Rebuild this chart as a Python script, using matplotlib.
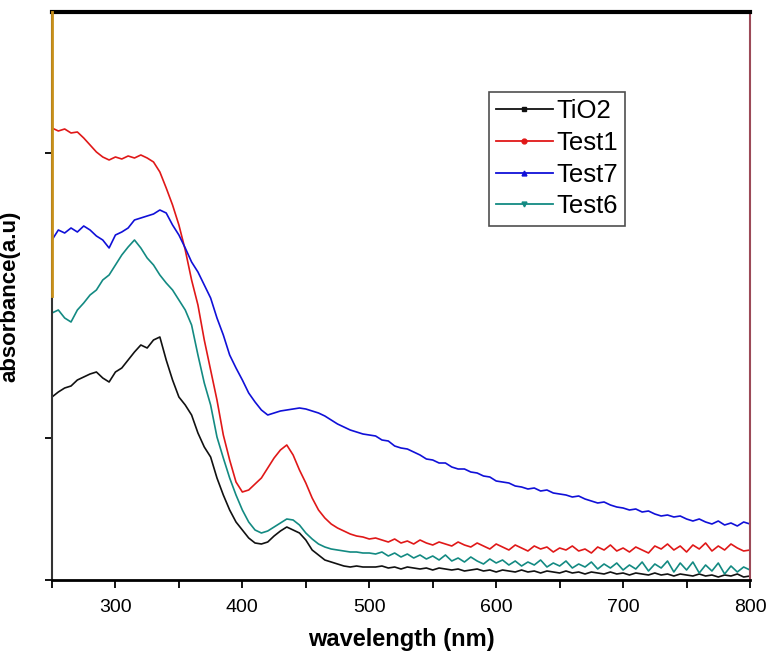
import numpy as np
import matplotlib
matplotlib.use("Agg")
import matplotlib.pyplot as plt
from matplotlib.ticker import MultipleLocator

# longitud de onda cada 5 nm (250 - 800)
wavelength = np.arange(250, 801, 5)

# absorbancia (a.u.)
tio2 = [1.83, 1.88, 1.92, 1.94, 2.00, 2.03, 2.06, 2.08, 2.02, 1.98,
        2.08, 2.12, 2.20, 2.28, 2.35, 2.32, 2.40, 2.43, 2.20, 2.00,
        1.83, 1.75, 1.65, 1.47, 1.33, 1.23, 1.02, 0.85, 0.70, 0.58,
        0.50, 0.42, 0.37, 0.36, 0.38, 0.44, 0.49, 0.53, 0.50, 0.47,
        0.40, 0.30, 0.25, 0.20, 0.18, 0.16, 0.14, 0.13, 0.14, 0.13,
        0.13, 0.13, 0.14, 0.12, 0.13, 0.11, 0.13, 0.12, 0.11, 0.12,
        0.10, 0.12, 0.11, 0.10, 0.11, 0.09, 0.10, 0.11, 0.09, 0.10,
        0.08, 0.10, 0.09, 0.08, 0.10, 0.08, 0.09, 0.07, 0.09, 0.08,
        0.07, 0.09, 0.07, 0.08, 0.06, 0.08, 0.07, 0.06, 0.08, 0.06,
        0.07, 0.05, 0.07, 0.06, 0.05, 0.07, 0.05, 0.06, 0.04, 0.06,
        0.05, 0.04, 0.06, 0.04, 0.05, 0.03, 0.05, 0.04, 0.06, 0.03,
        0.04]
test1 = [4.52, 4.49, 4.51, 4.47, 4.48, 4.42, 4.35, 4.28, 4.23, 4.20,
         4.23, 4.21, 4.24, 4.22, 4.25, 4.22, 4.18, 4.08, 3.92, 3.75,
         3.55, 3.30, 3.00, 2.75, 2.40, 2.10, 1.80, 1.45, 1.20, 0.98,
         0.88, 0.90, 0.96, 1.02, 1.12, 1.22, 1.30, 1.35, 1.25, 1.10,
         0.97, 0.82, 0.70, 0.62, 0.56, 0.52, 0.49, 0.46, 0.44, 0.43,
         0.41, 0.42, 0.40, 0.38, 0.41, 0.37, 0.39, 0.36, 0.40, 0.37,
         0.35, 0.38, 0.36, 0.34, 0.38, 0.35, 0.33, 0.37, 0.34, 0.31,
         0.36, 0.33, 0.30, 0.35, 0.32, 0.29, 0.34, 0.31, 0.33, 0.28,
         0.32, 0.30, 0.34, 0.29, 0.31, 0.27, 0.33, 0.30, 0.35, 0.29,
         0.32, 0.28, 0.33, 0.30, 0.27, 0.34, 0.31, 0.36, 0.30, 0.34,
         0.28, 0.35, 0.31, 0.37, 0.29, 0.34, 0.30, 0.36, 0.32, 0.29,
         0.30]
test7 = [3.40, 3.50, 3.47, 3.52, 3.48, 3.54, 3.50, 3.44, 3.40, 3.32,
         3.45, 3.48, 3.52, 3.60, 3.62, 3.64, 3.66, 3.70, 3.67, 3.55,
         3.45, 3.32, 3.18, 3.08, 2.95, 2.82, 2.62, 2.45, 2.25, 2.12,
         2.00, 1.87, 1.78, 1.70, 1.65, 1.67, 1.69, 1.70, 1.71, 1.72,
         1.71, 1.69, 1.67, 1.64, 1.60, 1.56, 1.53, 1.50, 1.48, 1.46,
         1.45, 1.44, 1.40, 1.39, 1.34, 1.32, 1.31, 1.28, 1.25, 1.21,
         1.20, 1.17, 1.17, 1.13, 1.11, 1.11, 1.08, 1.07, 1.04, 1.03,
         0.99, 0.98, 0.97, 0.94, 0.93, 0.91, 0.92, 0.89, 0.90, 0.87,
         0.86, 0.85, 0.83, 0.84, 0.81, 0.79, 0.77, 0.78, 0.75, 0.73,
         0.72, 0.70, 0.71, 0.68, 0.69, 0.66, 0.64, 0.65, 0.63, 0.64,
         0.61, 0.59, 0.61, 0.58, 0.56, 0.59, 0.55, 0.57, 0.54, 0.58,
         0.56]
test6 = [2.67, 2.70, 2.62, 2.58, 2.70, 2.77, 2.85, 2.90, 3.00, 3.05,
         3.15, 3.25, 3.33, 3.40, 3.32, 3.22, 3.15, 3.05, 2.97, 2.90,
         2.80, 2.70, 2.55, 2.25, 1.97, 1.75, 1.43, 1.22, 1.02, 0.85,
         0.70, 0.58, 0.50, 0.47, 0.49, 0.53, 0.57, 0.61, 0.60, 0.55,
         0.47, 0.41, 0.36, 0.33, 0.31, 0.30, 0.29, 0.28, 0.28, 0.27,
         0.27, 0.26, 0.28, 0.24, 0.27, 0.23, 0.26, 0.22, 0.25, 0.21,
         0.24, 0.20, 0.25, 0.19, 0.22, 0.18, 0.23, 0.19, 0.16, 0.21,
         0.17, 0.20, 0.15, 0.19, 0.14, 0.18, 0.15, 0.20, 0.13, 0.17,
         0.14, 0.19, 0.12, 0.16, 0.13, 0.18, 0.11, 0.16, 0.12, 0.17,
         0.10, 0.15, 0.11, 0.18, 0.09, 0.16, 0.12, 0.19, 0.08, 0.17,
         0.10, 0.18, 0.07, 0.15, 0.09, 0.17, 0.06, 0.14, 0.08, 0.13,
         0.10]

series = [("TiO2", tio2, "#111111", "s"),
          ("Test1", test1, "#e01818", "o"),
          ("Test7", test7, "#1010d8", "^"),
          ("Test6", test6, "#138a82", "v")]

plt.rcParams['font.family'] = ['Liberation Sans', 'DejaVu Sans']

fig = plt.figure(figsize=(7.69, 6.55), dpi=100)
ax = fig.add_axes([0.0676, 0.1145, 0.9077, 0.8672])

for nombre, valores, color, marca in series:
    ax.plot(wavelength, valores, color=color, lw=1.2)
    # linea solo para la leyenda (marcador pequeño en el centro)
    ax.plot([], [], color=color, lw=1.3, marker=marca, markersize=3.5,
            label=nombre)

ax.set_xlim(250, 800)
ax.set_ylim(0, 5.68)
ax.xaxis.set_minor_locator(MultipleLocator(50))
ax.set_xticks([300, 400, 500, 600, 700, 800])
ax.set_yticks([0.0, 1.42, 4.27])
ax.set_yticklabels([])
ax.tick_params(axis='x', which='both', direction='out', length=6, width=1.3,
               labelsize=14, pad=8)
ax.tick_params(axis='y', direction='out', length=5, width=1.3)

ax.spines['top'].set_linewidth(3)
ax.spines['top'].set_color('black')
ax.spines['right'].set_color('#9c4a58')
ax.spines['right'].set_linewidth(1.5)
ax.spines['left'].set_color('#333333')
ax.spines['left'].set_linewidth(1.5)
ax.spines['bottom'].set_linewidth(2)
# parte superior del eje izquierdo en naranja, como en la figura original
ax.plot([0, 0], [0.5, 1.0], transform=ax.transAxes, color='#c8901a', lw=2,
        clip_on=False, zorder=5)

ax.set_xlabel("wavelength (nm)", fontsize=17, fontweight='bold', labelpad=8)
ax.set_ylabel("absorbance(a.u)", fontsize=16, fontweight='bold', labelpad=14)

leg = ax.legend(loc='upper left', bbox_to_anchor=(0.626, 0.859),
                borderaxespad=0, fontsize=18.5, frameon=True, fancybox=False,
                edgecolor='#222222', handlelength=2.2, handletextpad=0.15,
                labelspacing=0.3, borderpad=0.28)
leg.get_frame().set_linewidth(1.2)

fig.savefig("out.png", dpi=100)
